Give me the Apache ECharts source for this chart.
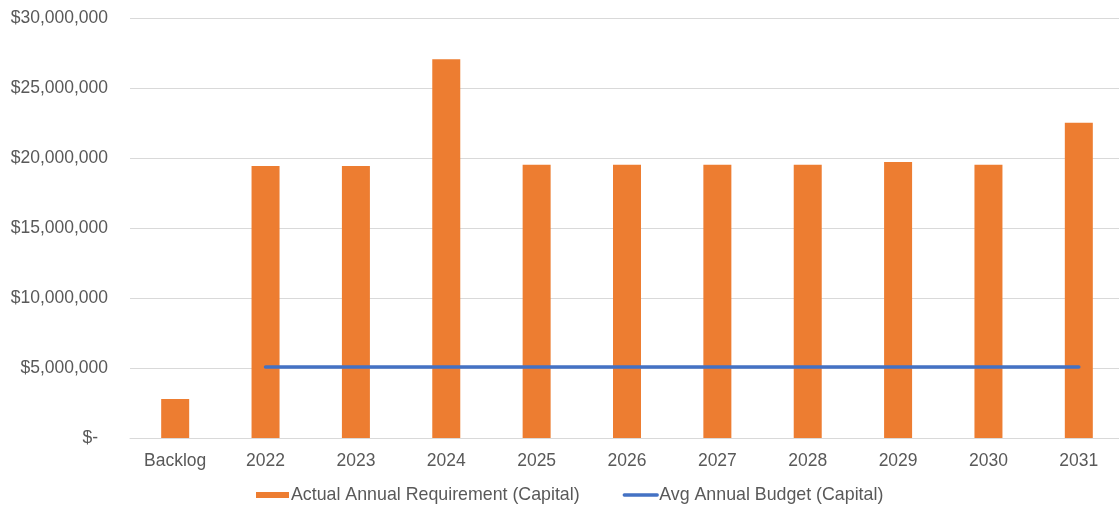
<!DOCTYPE html>
<html>
<head>
<meta charset="utf-8">
<style>
  html, body { margin: 0; padding: 0; background: #ffffff; overflow: hidden; }
  #chart { width: 1125px; height: 506px; }
</style>
<script src="https://cdn.jsdelivr.net/npm/echarts@6/dist/echarts.min.js"></script>
</head>
<body>
<div id="chart"></div>
<script>
// Capital requirement by year versus the average annual budget
const categories = ['Backlog', '2022', '2023', '2024', '2025', '2026', '2027', '2028', '2029', '2030', '2031'];
const actualRequirement = [2790000, 19430000, 19430000, 27050000, 19520000, 19520000, 19520000, 19520000, 19710000, 19520000, 22520000];
const avgBudget = [null, 5070000, 5070000, 5070000, 5070000, 5070000, 5070000, 5070000, 5070000, 5070000, 5070000];
const yTicks = { min: 0, max: 30000000, interval: 5000000 };

const textColor = '#595959';
const fontFamily = '"Liberation Sans", Arial, sans-serif';

function money(v) {
  if (v === 0) return '{z|$-}';
  return '$' + v.toLocaleString('en-US');
}

const chart = echarts.init(document.getElementById('chart'), null, { renderer: 'canvas' });
chart.setOption({
  animation: false,
  backgroundColor: '#ffffff',
  grid: { left: 130, top: 18, right: 1, height: 420, containLabel: false },
  legend: {
    top: 486,
    left: 256,
    padding: 0,
    itemGap: 43,
    itemWidth: 33,
    itemHeight: 6,
    textStyle: { color: textColor, fontSize: 17.8, fontFamily: fontFamily, padding: [0, 0, 0, -3] },
    data: [
      { name: 'Actual Annual Requirement (Capital)', icon: 'rect' },
      { name: 'Avg Annual Budget (Capital)', itemStyle: { opacity: 0 }, lineStyle: { width: 3.3 } }
    ]
  },
  xAxis: {
    type: 'category',
    data: categories,
    axisTick: { show: false },
    axisLine: { show: true, lineStyle: { color: '#d9d9d9', width: 1 } },
    axisLabel: { color: textColor, fontSize: 17.5, fontFamily: fontFamily, margin: 14 }
  },
  yAxis: {
    type: 'value',
    min: yTicks.min,
    max: yTicks.max,
    interval: yTicks.interval,
    axisLine: { show: false },
    axisTick: { show: false },
    splitLine: { lineStyle: { color: '#d9d9d9', width: 1 } },
    axisLabel: {
      color: textColor, fontSize: 17.5, fontFamily: fontFamily, margin: 22,
      formatter: money,
      rich: { z: { color: textColor, fontSize: 17.5, fontFamily: fontFamily, padding: [0, 10, 0, 0] } }
    }
  },
  series: [
    {
      name: 'Actual Annual Requirement (Capital)',
      type: 'bar',
      data: actualRequirement,
      barWidth: 28,
      itemStyle: { color: '#ED7D31' }
    },
    {
      name: 'Avg Annual Budget (Capital)',
      type: 'line',
      data: avgBudget,
      symbol: 'none',
      showSymbol: false,
      lineStyle: { color: '#4472C4', width: 3.5, cap: 'round' },
      itemStyle: { color: '#4472C4' }
    }
  ]
});
</script>
</body>
</html>
